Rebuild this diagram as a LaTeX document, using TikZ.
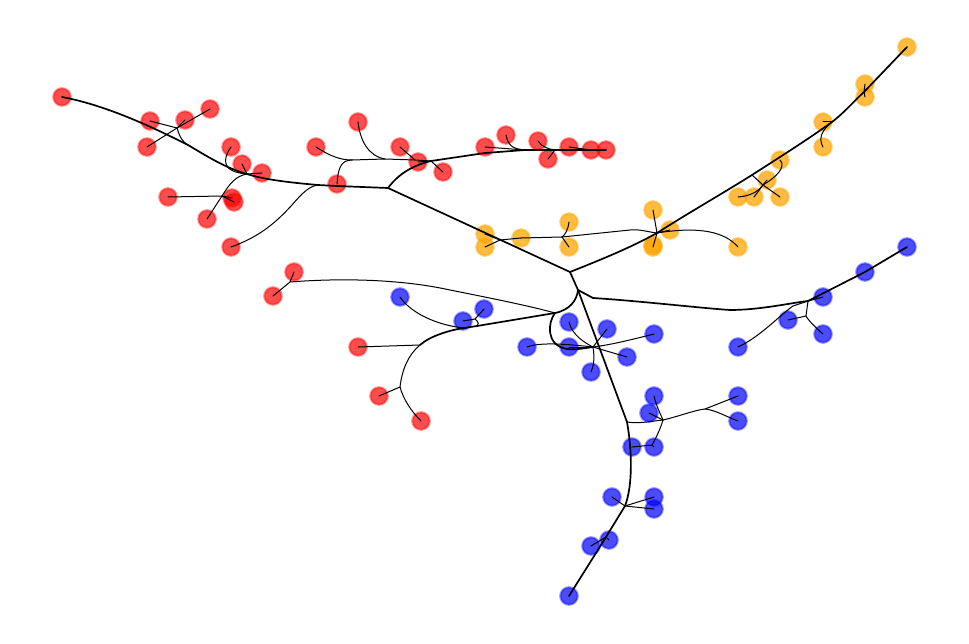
\documentclass[tikz,border=0pt]{standalone}
\definecolor{orng}{HTML}{FFA500}
\begin{document}
\begin{tikzpicture}[x=1pt,y=-1pt,
  nd/.style={circle, inner sep=0pt, minimum size=17.5pt, line width=2.2pt},
  rn/.style={nd, fill=red, fill opacity=0.7, draw=red, draw opacity=0.4},
  bn/.style={nd, fill=blue, fill opacity=0.7, draw=blue, draw opacity=0.4},
  on/.style={nd, fill=orng, fill opacity=0.75, draw=orng, draw opacity=0.45},
  ed/.style={line width=1pt, line cap=round},
  tk/.style={line width=1.7pt, line cap=round, line join=round}]
\useasboundingbox (0,0) rectangle (969,644);
% red nodes
\node[rn] (r1) at (62,97) {};
\node[rn] (r2) at (150,121) {};
\node[rn] (r3) at (185,120) {};
\node[rn] (r4) at (210,109) {};
\node[rn] (r5) at (147,147) {};
\node[rn] (r6) at (231,147) {};
\node[rn] (r7) at (242,164) {};
\node[rn] (r8) at (262,173) {};
\node[rn] (r9) at (168,197) {};
\node[rn] (r10) at (232,198) {};
\node[rn] (r10b) at (234,202) {};
\node[rn] (r11) at (207,219) {};
\node[rn] (r12) at (231,247) {};
\node[rn] (r13) at (316,147) {};
\node[rn] (r14) at (358,122) {};
\node[rn] (r15) at (400,147) {};
\node[rn] (r16) at (418,162) {};
\node[rn] (r17) at (443,172) {};
\node[rn] (r18) at (337,184) {};
\node[rn] (r19) at (485,147) {};
\node[rn] (r20) at (506,135) {};
\node[rn] (r21) at (538,141) {};
\node[rn] (r22) at (548,159) {};
\node[rn] (r23) at (569,147) {};
\node[rn] (r24) at (591,150) {};
\node[rn] (r25) at (606,150) {};
\node[rn] (r26) at (294,272) {};
\node[rn] (r27) at (273,296) {};
\node[rn] (r28) at (358,347) {};
\node[rn] (r29) at (379,396) {};
\node[rn] (r30) at (421,421) {};
% orange nodes
\node[on] (o1) at (907,47) {};
\node[on] (o2) at (865,84) {};
\node[on] (o3) at (865,97) {};
\node[on] (o4) at (823,122) {};
\node[on] (o5) at (823,147) {};
\node[on] (o6) at (780,160) {};
\node[on] (o7) at (767,180) {};
\node[on] (o8) at (738,197) {};
\node[on] (o9) at (754,197) {};
\node[on] (o10) at (780,197) {};
\node[on] (o11) at (653,210) {};
\node[on] (o12) at (670,230) {};
\node[on] (o13) at (653,247) {};
\node[on] (o13b) at (653,245) {};
\node[on] (o14) at (738,247) {};
\node[on] (o15) at (569,222) {};
\node[on] (o16) at (569,247) {};
\node[on] (o17) at (521,238) {};
\node[on] (o18) at (485,234) {};
\node[on] (o19) at (485,247) {};
% blue nodes
\node[bn] (b1) at (907,247) {};
\node[bn] (b2) at (865,272) {};
\node[bn] (b3) at (823,297) {};
\node[bn] (b4) at (788,320) {};
\node[bn] (b5) at (823,334) {};
\node[bn] (b6) at (738,347) {};
\node[bn] (b7) at (400,297) {};
\node[bn] (b8) at (484,309) {};
\node[bn] (b9) at (463,321) {};
\node[bn] (b10) at (569,322) {};
\node[bn] (b11) at (607,329) {};
\node[bn] (b12) at (654,334) {};
\node[bn] (b13) at (527,347) {};
\node[bn] (b14) at (569,347) {};
\node[bn] (b15) at (627,357) {};
\node[bn] (b16) at (591,372) {};
\node[bn] (b17) at (654,396) {};
\node[bn] (b18) at (738,396) {};
\node[bn] (b19) at (649,413) {};
\node[bn] (b20) at (738,421) {};
\node[bn] (b21) at (632,447) {};
\node[bn] (b22) at (654,447) {};
\node[bn] (b23) at (612,497) {};
\node[bn] (b24) at (654,497) {};
\node[bn] (b25) at (654,509) {};
\node[bn] (b26) at (609,540) {};
\node[bn] (b27) at (591,546) {};
\node[bn] (b28) at (569,596) {};
% junctions
\coordinate (H) at (570,272);
\coordinate (jA) at (388,188);
\coordinate (jB) at (318,185);
\coordinate (jC) at (247,174);
\coordinate (jD) at (188,145);
\coordinate (jE) at (177,128);
\coordinate (jF) at (222,196);
\coordinate (jG) at (352,160);
\coordinate (jG2) at (385,159);
\coordinate (jG3) at (415,160);
\coordinate (jH) at (431,161);
\coordinate (jI) at (525,150);
\coordinate (jK) at (555,150);
\coordinate (jO1) at (657,233);
\coordinate (jO2) at (752,175);
\coordinate (jO3) at (832,122);
\coordinate (jO4) at (864,92);
\coordinate (jO5) at (500,240);
\coordinate (jO6) at (562,237);
\coordinate (jO7) at (763,185);
\coordinate (jM) at (578,290);
\coordinate (jR) at (808,301);
\coordinate (jR4) at (806,316);
\coordinate (jL) at (555,313);
\coordinate (jP) at (290,282);
\coordinate (jT) at (464,328);
\coordinate (jT2) at (475,319);
\coordinate (jT3) at (477,326);
\coordinate (jQ) at (420,345);
\coordinate (jS) at (400,387);
\coordinate (jB2) at (593,347);
\coordinate (jD1) at (627,422);
\coordinate (jD2) at (663,420);
\coordinate (jD3) at (705,409);
\coordinate (jD4) at (652,445);
\coordinate (jD6) at (625,506);
\coordinate (jD7) at (606,537);
% left red cluster
\draw[tk] (jA) -- (337,186) -- (jB) .. controls (295,183) and (265,180) .. (jC) .. controls (225,168) and (205,155) .. (jD) .. controls (160,131) and (110,106) .. (r1.center);
\draw[ed] (r5.center) -- (jE) -- (r4.center);
\draw[ed] (r3.center) -- (jE);
\draw[ed] (r2.center) -- (jE) .. controls (180,138) and (183,142) .. (jD);
\draw[ed] (r6.center) .. controls (222,160) and (222,172) .. (jC);
\draw[ed] (r7.center) -- (jC);
\draw[ed] (r8.center) -- (jC);
\draw[ed] (r9.center) -- (jF) -- (r10.center);
\draw[ed] (r10b.center) -- (jF);
\draw[ed] (r11.center) -- (jF) .. controls (230,183) and (236,176) .. (jC);
\draw[ed] (r12.center) .. controls (262,236) and (278,220) .. (292,205) .. controls (303,192) and (310,186) .. (jB);
\draw[ed] (r18.center) .. controls (338,170) and (340,160) .. (jG);
\draw[ed] (r13.center) .. controls (330,156) and (340,160) .. (jG);
\draw[ed] (jG) -- (jG2) -- (jG3) -- (jH);
\draw[ed] (r14.center) .. controls (360,140) and (368,156) .. (jG2);
\draw[ed] (r15.center) -- (jG3);
\draw[ed] (r16.center) -- (jH);
\draw[ed] (r17.center) -- (jH);
% upper right red cluster
\draw[tk] (jA) .. controls (400,172) and (415,165) .. (jH) -- (485,153) -- (jI) -- (jK) -- (r25.center);
\draw[ed] (r19.center) -- (jI);
\draw[ed] (r20.center) .. controls (508,145) and (512,149) .. (jI);
\draw[ed] (r21.center) .. controls (542,147) and (548,149) .. (jK);
\draw[ed] (r22.center) -- (jK);
\draw[ed] (r23.center) -- (r24.center);
% main trunk
\draw[tk] (jA) -- (H);
% orange trunk
\draw[tk] (H) .. controls (600,260) and (630,248) .. (jO1) .. controls (690,212) and (720,195) .. (jO2) .. controls (780,157) and (810,138) .. (jO3) .. controls (845,112) and (855,100) .. (jO4) -- (o1.center);
\draw[ed] (o19.center) -- (jO5) -- (o17.center) -- (jO6) -- (630,230) .. controls (640,229) and (648,232) .. (jO1);
\draw[ed] (o18.center) -- (jO5);
\draw[ed] (o15.center) .. controls (568,230) and (565,235) .. (jO6);
\draw[ed] (o16.center) -- (jO6);
\draw[ed] (jO1) .. controls (700,226) and (725,232) .. (o14.center);
\draw[ed] (o11.center) -- (jO1);
\draw[ed] (o13.center) -- (jO1);
\draw[ed] (o12.center) -- (jO1);
\draw[ed] (o6.center) .. controls (787,167) and (775,178) .. (jO7);
\draw[ed] (o8.center) .. controls (750,196) and (758,192) .. (jO7);
\draw[ed] (o9.center) -- (jO7);
\draw[ed] (o10.center) -- (jO7);
\draw[ed] (o7.center) -- (jO7);
\draw[ed] (jO7) -- (jO2);
\draw[ed] (o4.center) -- (jO3);
\draw[ed] (o5.center) .. controls (818,138) and (822,130) .. (jO3);
\draw[ed] (o2.center) -- (jO4);
\draw[ed] (o3.center) -- (jO4);
% hub down
\draw[tk] (H) -- (jM);
% right blue cluster
\draw[tk] (jM) -- (593,298) .. controls (640,301) and (700,308) .. (730,310) .. controls (760,310) and (790,303) .. (jR);
\draw[tk] (jR) -- (b2.center) -- (b1.center);
\draw[ed] (b3.center) -- (jR);
\draw[ed] (b4.center) -- (jR4) -- (jR);
\draw[ed] (b5.center) .. controls (815,327) and (808,320) .. (jR4);
\draw[ed] (b6.center) .. controls (760,337) and (780,315) .. (793,306) -- (jR);
% left lower branch
\draw[tk] (jM) .. controls (577,300) and (570,310) .. (jL);
\draw[ed] (jP) .. controls (340,278) and (400,279) .. (450,290) .. controls (490,298) and (530,306) .. (jL);
\draw[ed] (r26.center) -- (jP) -- (r27.center);
\draw[tk] (jL) -- (jT3) -- (jT) .. controls (450,330) and (430,336) .. (jQ);
\draw[ed] (r28.center) -- (jQ);
\draw[ed] (jQ) .. controls (408,355) and (402,370) .. (jS);
\draw[ed] (r29.center) -- (jS);
\draw[ed] (r30.center) .. controls (410,410) and (403,398) .. (jS);
\draw[ed] (b7.center) .. controls (410,312) and (435,325) .. (jT);
\draw[ed] (b9.center) -- (jT2) -- (b8.center);
\draw[ed] (jT2) .. controls (479,322) and (479,325) .. (jT3);
% central blue cluster
\draw[tk] (jL) .. controls (548,322) and (545,345) .. (567,349) .. controls (577,350) and (585,348) .. (jB2);
\draw[ed] (b10.center) .. controls (572,335) and (585,343) .. (jB2);
\draw[ed] (b11.center) -- (jB2);
\draw[ed] (b12.center) .. controls (630,340) and (610,345) .. (jB2);
\draw[ed] (b13.center) .. controls (540,342) and (565,344) .. (jB2);
\draw[ed] (b14.center) -- (jB2);
\draw[ed] (b15.center) -- (jB2);
\draw[ed] (b16.center) .. controls (595,362) and (594,355) .. (jB2);
% lower blue cluster
\draw[tk] (jM) -- (jD1);
\draw[ed] (jD1) .. controls (640,424) and (652,421) .. (jD2);
\draw[ed] (jD2) .. controls (680,416) and (695,410) .. (jD3) -- (b18.center);
\draw[ed] (b20.center) .. controls (725,416) and (715,410) .. (jD3);
\draw[ed] (b17.center) .. controls (656,405) and (660,413) .. (jD2);
\draw[ed] (b19.center) -- (jD2);
\draw[ed] (jD2) .. controls (660,430) and (655,440) .. (jD4);
\draw[ed] (b21.center) -- (jD4);
\draw[ed] (b22.center) -- (jD4);
\draw[tk] (jD1) .. controls (632,450) and (633,485) .. (jD6) -- (jD7) -- (b28.center);
\draw[ed] (b23.center) -- (jD6) -- (b25.center);
\draw[ed] (b24.center) -- (jD6);
\draw[ed] (b26.center) -- (jD7);
\draw[ed] (b27.center) -- (jD7);
\end{tikzpicture}
\end{document}
